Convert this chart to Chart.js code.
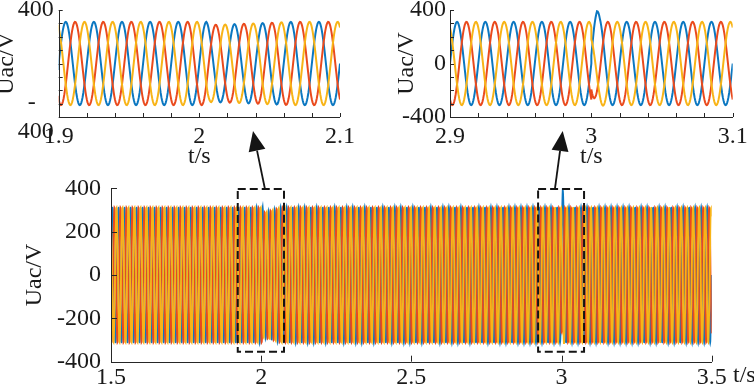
<!DOCTYPE html>
<html>
<head>
<meta charset="utf-8">
<script src="https://cdn.jsdelivr.net/npm/chart.js@4.4.1/dist/chart.umd.min.js"></script>
<style>
  html, body { margin: 0; padding: 0; background: #fff; }
  #wrap { position: relative; width: 754px; height: 387px; overflow: hidden; }
  canvas { position: absolute; }
  #main { left: 0; top: 0; }
  #zoom1 { left: -10px; top: -30px; }
  #zoom2 { left: 377px; top: -30px; }
</style>
</head>
<body>
<div id="wrap">
  <canvas id="main" width="754" height="387"></canvas>
  <canvas id="zoom1" width="387" height="200"></canvas>
  <canvas id="zoom2" width="377" height="200"></canvas>
</div>
<script>
// three-phase grid voltage
const phaseLabels = ['Ua', 'Ub', 'Uc'];
const phaseAngleDeg = [0, -120, 120];
const lineFreqHz = 50;
const simStart = 1.5, simEnd = 3.5, simStep = 0.0005;
// peak voltage envelope (small sag just after 2 s)
const envTimes = [1.5, 2.005, 2.0075, 2.02, 2.035, 2.05, 2.065, 3.5];
const envPeaks = [311, 311, 288, 292, 298, 304, 311, 311];
// disturbance at 3 s, extra volts per phase after the jump
const faultTime = 3.0;
const distTimes = [3.0, 3.002, 3.004, 3.006, 3.01];
const distA = [60, 90, 95, 40, 0];
const distB = [75, 50, 25, 10, 0];
const distC = [-90, -60, -30, -10, 0];
const distByPhase = [distA, distB, distC];

const xTicksMain = [1.5, 3.5, 0.5];
const yTicksMain = [-400, 400, 200];

const phaseColors = ['#0b77c1', '#ea4a1d', '#f8b417'];
const axisColor = '#262626';
const textColor = '#1a1a1a';
const serif = "'Liberation Serif', 'DejaVu Serif', serif";

function lerpTable(ts, vs, t) {
    if (t <= ts[0]) return vs[0];
    for (let i = 1; i < ts.length; i++) {
        if (t <= ts[i]) {
            const f = (t - ts[i - 1]) / (ts[i] - ts[i - 1]);
            return vs[i - 1] + f * (vs[i] - vs[i - 1]);
        }
    }
    return vs[vs.length - 1];
}

function phaseValue(k, t, afterFault) {
    const w = 2 * Math.PI * lineFreqHz * t + phaseAngleDeg[k] * Math.PI / 180;
    let v = lerpTable(envTimes, envPeaks, t) * Math.sin(w);
    if (afterFault) v += lerpTable(distTimes, distByPhase[k], t);
    return v;
}

const series = phaseLabels.map((_, k) => {
    const pts = [];
    const n = Math.round((simEnd - simStart) / simStep);
    for (let i = 0; i <= n; i++) {
        const t = +(simStart + i * simStep).toFixed(5);
        if (Math.abs(t - faultTime) < 1e-9) {
            pts.push({ x: t, y: phaseValue(k, t, false) });
            pts.push({ x: t, y: phaseValue(k, t, true) });
        } else {
            pts.push({ x: t, y: phaseValue(k, t, t > faultTime) });
        }
    }
    return pts;
});

// tiny tension keeps Chart.js off its pixel-column fast path
const buildDatasets = (width) => phaseLabels.map((name, k) => ({
    label: name,
    data: series[k].slice(),
    borderColor: phaseColors[k],
    borderWidth: width,
    pointRadius: 0,
    tension: 0.0001,
    fill: false,
    order: phaseLabels.length - k
}));

const tickFont = { family: serif, size: 24 };
const fmt = v => String(+(+v).toFixed(2));

// inward MATLAB-style ticks plus the two axis lines
const inwardTicks = {
    id: 'inwardTicks',
    afterDatasetsDraw(chart, args, o) {
        const { ctx, chartArea: a, scales: { x, y } } = chart;
        ctx.save();
        ctx.strokeStyle = axisColor;
        ctx.lineWidth = 1;
        ctx.beginPath();
        const nx = Math.round((x.max - x.min) / o.xStep);
        for (let i = 0; i <= nx; i++) {
            const px = Math.round(x.getPixelForValue(x.min + i * o.xStep)) + 0.5;
            ctx.moveTo(px, a.bottom);
            ctx.lineTo(px, a.bottom - o.len);
        }
        const ny = Math.round((y.max - y.min) / o.yStep);
        for (let i = 0; i <= ny; i++) {
            const py = Math.round(y.getPixelForValue(y.min + i * o.yStep)) + 0.5;
            ctx.moveTo(a.left, py);
            ctx.lineTo(a.left + o.len, py);
        }
        ctx.stroke();
        ctx.beginPath();
        const l = Math.round(a.left) + 0.5, b = Math.round(a.bottom) + 0.5;
        ctx.moveTo(l, Math.round(a.top));
        ctx.lineTo(l, b);
        ctx.lineTo(Math.round(a.right), b);
        ctx.stroke();
        ctx.restore();
    }
};

// dashed zoom boxes, arrows to the insets, and the main time label
const zoomMarks = {
    id: 'zoomMarks',
    afterDraw(chart, args, o) {
        const { ctx, scales: { x, y } } = chart;
        ctx.save();
        ctx.strokeStyle = '#141414';
        ctx.fillStyle = '#141414';
        ctx.lineWidth = 2;
        ctx.setLineDash([8, 4]);
        o.boxes.forEach(b => {
            const l = x.getPixelForValue(b.from), r = x.getPixelForValue(b.to);
            const t = y.getPixelForValue(b.top), btm = y.getPixelForValue(b.bottom);
            ctx.strokeRect(l, t, r - l, btm - t);
        });
        ctx.setLineDash([]);
        ctx.lineWidth = 1.8;
        o.arrows.forEach(ar => {
            const x0 = x.getPixelForValue(ar.fromT), y0 = y.getPixelForValue(ar.fromV);
            const [x1, y1] = ar.tip;
            const ang = Math.atan2(y1 - y0, x1 - x0);
            const hl = 20, hw = 8.5;
            const bx = x1 - hl * Math.cos(ang), by = y1 - hl * Math.sin(ang);
            ctx.beginPath();
            ctx.moveTo(x0, y0);
            ctx.lineTo(bx, by);
            ctx.stroke();
            ctx.beginPath();
            ctx.moveTo(x1, y1);
            ctx.lineTo(bx + hw * Math.sin(ang), by - hw * Math.cos(ang));
            ctx.lineTo(bx - hw * Math.sin(ang), by + hw * Math.cos(ang));
            ctx.closePath();
            ctx.fill();
        });
        ctx.fillStyle = textColor;
        ctx.font = `24px ${serif}`;
        ctx.textAlign = 'left';
        ctx.textBaseline = 'middle';
        ctx.fillText(o.xTitle, o.xTitlePos[0], o.xTitlePos[1]);
        ctx.restore();
    }
};

function waveOptions(cfg) {
    return {
        responsive: false,
        animation: false,
        devicePixelRatio: 1,
        events: [],
        layout: { padding: cfg.padding },
        plugins: {
            legend: { display: false },
            tooltip: { enabled: false },
            inwardTicks: cfg.minor,
            zoomMarks: cfg.marks
        },
        scales: {
            x: {
                type: 'linear',
                min: cfg.x[0], max: cfg.x[1],
                ticks: { stepSize: cfg.x[2], font: tickFont, color: textColor, padding: cfg.xPad, maxRotation: 0, autoSkip: false, callback: fmt },
                grid: { display: false, drawTicks: false },
                border: { display: false },
                title: cfg.xTitle ? { display: true, text: cfg.xTitle, font: tickFont, color: textColor, padding: { top: 0, bottom: -1 } } : { display: false },
                afterFit: s => { s.height = cfg.xHeight; }
            },
            y: {
                type: 'linear',
                min: cfg.y[0], max: cfg.y[1],
                ticks: { stepSize: cfg.y[2], font: Object.assign({ lineHeight: 1.21 }, tickFont), color: textColor, padding: cfg.yPad, callback: cfg.yLabel || fmt },
                grid: { display: false, drawTicks: false },
                border: { display: false },
                title: { display: true, text: 'Uac/V', font: tickFont, color: textColor, padding: { top: cfg.yTitlePad, bottom: 0 } },
                afterFit: s => { s.width = cfg.yWidth; }
            }
        }
    };
}

new Chart(document.getElementById('main'), {
    type: 'line',
    data: { datasets: buildDatasets(1.8) },
    options: waveOptions({
        padding: { top: 188.3, right: 42.3, bottom: 0, left: 0 },
        x: xTicksMain, y: yTicksMain,
        xPad: 2, yPad: 10, xHeight: 25.3, yWidth: 111, yTitlePad: 20.6,
        minor: { xStep: 0.5, yStep: 200, len: 6 },
        marks: {
            boxes: [
                { from: 1.922, to: 2.076, top: 397, bottom: -354 },
                { from: 2.922, to: 3.075, top: 397, bottom: -354 }
            ],
            arrows: [
                { fromT: 2.0126, fromV: 397, tip: [253, 131] },
                { fromT: 2.978, fromV: 397, tip: [562.7, 131] }
            ],
            xTitle: 't/s',
            xTitlePos: [733, 376]
        }
    }),
    plugins: [inwardTicks, zoomMarks]
});

new Chart(document.getElementById('zoom1'), {
    type: 'line',
    data: { datasets: buildDatasets(2) },
    options: waveOptions({
        padding: { top: 40, right: 37, bottom: 0, left: 0 },
        x: [1.9, 2.1, 0.1], y: [-400, 400, 400],
        xPad: 5, yPad: 5, xHeight: 53, yWidth: 68.7, yTitlePad: 2.1,
        xTitle: 't/s',
        yLabel: v => (v === -400 ? ['-\u00a0\u00a0\u00a0', '400'] : fmt(v)),
        minor: { xStep: 0.02, yStep: 100, len: 4 },
        marks: { boxes: [], arrows: [] }
    }),
    plugins: [inwardTicks]
});

new Chart(document.getElementById('zoom2'), {
    type: 'line',
    data: { datasets: buildDatasets(2) },
    options: waveOptions({
        padding: { top: 40, right: 21.3, bottom: 0, left: 0 },
        x: [2.9, 3.1, 0.1], y: [-400, 400, 400],
        xPad: 5, yPad: 4, xHeight: 53, yWidth: 73, yTitlePad: 15.6,
        xTitle: 't/s',
        minor: { xStep: 0.02, yStep: 100, len: 4 },
        marks: { boxes: [], arrows: [] }
    }),
    plugins: [inwardTicks]
});
</script>
</body>
</html>
